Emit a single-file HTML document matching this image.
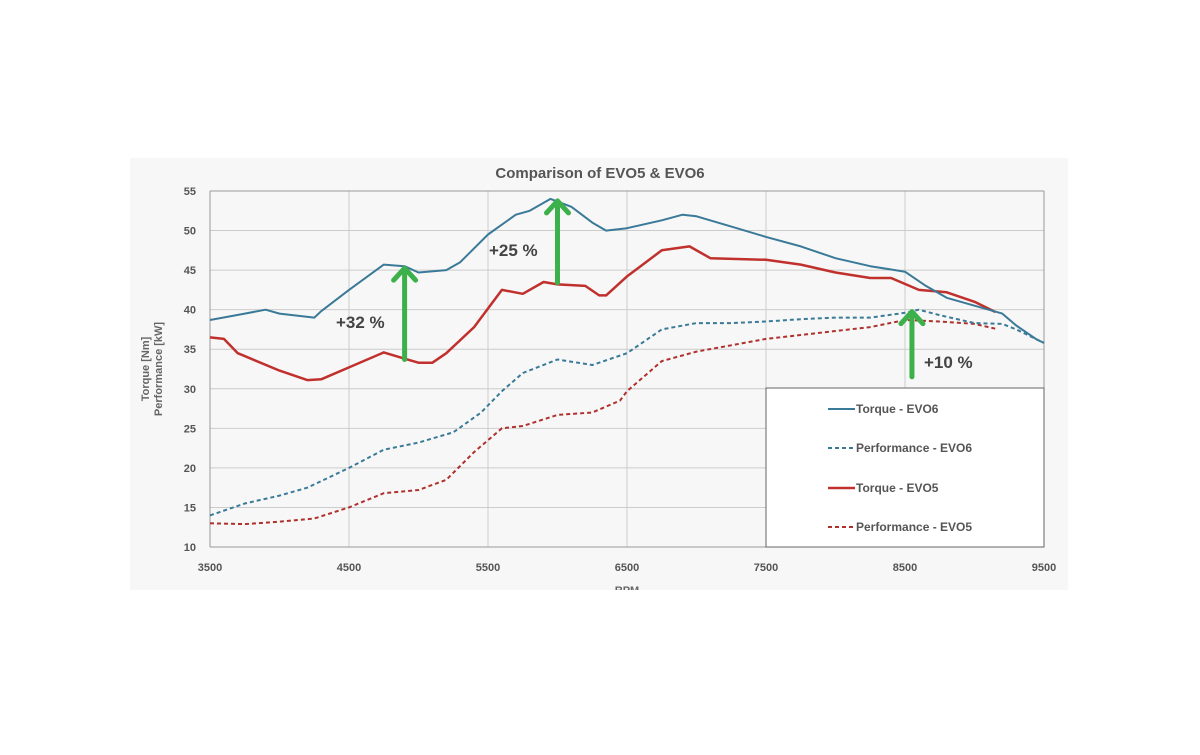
<!DOCTYPE html>
<html><head><meta charset="utf-8"><style>
body{margin:0;background:#fff;width:1200px;height:750px;overflow:hidden;font-family:"Liberation Sans",sans-serif}
</style></head><body>
<svg id="chart" width="1200" height="750" xmlns="http://www.w3.org/2000/svg" font-family="Liberation Sans, sans-serif">
<defs><clipPath id="pc"><rect x="130" y="155" width="940" height="435"/></clipPath></defs>
<rect x="130" y="158" width="938" height="432" fill="#f7f7f7"/>
<text x="600" y="178" text-anchor="middle" font-size="15" font-weight="bold" fill="#555">Comparison of EVO5 &amp; EVO6</text>
<g id="grid"></g><g id="ticks"></g>
<text transform="translate(149,369) rotate(-90)" text-anchor="middle" font-size="11" font-weight="bold" fill="#666">Torque [Nm]</text>
<text transform="translate(162,369) rotate(-90)" text-anchor="middle" font-size="11" font-weight="bold" fill="#666">Performance [kW]</text>
<g clip-path="url(#pc)"><text x="627" y="594" text-anchor="middle" font-size="11" font-weight="bold" fill="#666">RPM</text></g>
<g id="series"></g>
<g>
<rect x="766" y="388" width="278" height="159" fill="#fff" stroke="#666" stroke-width="1"/>
<line x1="828" y1="409" x2="855" y2="409" stroke="#3a7a98" stroke-width="2"/><text x="856" y="413" font-size="12" font-weight="bold" fill="#555">Torque - EVO6</text>
<line x1="828" y1="448" x2="855" y2="448" stroke="#3a7a98" stroke-width="2" stroke-dasharray="4,3"/><text x="856" y="452" font-size="12" font-weight="bold" fill="#555">Performance - EVO6</text>
<line x1="828" y1="488" x2="855" y2="488" stroke="#c0302c" stroke-width="2.5"/><text x="856" y="492" font-size="12" font-weight="bold" fill="#555">Torque - EVO5</text>
<line x1="828" y1="527" x2="855" y2="527" stroke="#b0302c" stroke-width="2" stroke-dasharray="4,3"/><text x="856" y="531" font-size="12" font-weight="bold" fill="#555">Performance - EVO5</text>
</g>
<g id="arrows"></g>
</svg>
<script>
const rpmTicks=[3500,4500,5500,6500,7500,8500,9500];
const yTicks=[10,15,20,25,30,35,40,45,50,55];
const torqueEvo6X=[3500,3750,3900,4000,4250,4300,4500,4750,4900,5000,5200,5300,5500,5700,5800,5950,6100,6250,6350,6500,6750,6900,7000,7250,7500,7750,8000,8250,8500,8650,8800,9000,9200,9300,9450,9500];
const torqueEvo6Y=[38.7,39.5,40,39.5,39,39.8,42.5,45.7,45.5,44.7,45,46,49.5,52,52.5,54,53,51,50,50.3,51.3,52,51.8,50.5,49.2,48,46.5,45.5,44.8,43,41.5,40.5,39.5,38,36.2,35.8];
const torqueEvo5X=[3500,3600,3700,4000,4200,4300,4500,4750,4900,5000,5100,5200,5400,5600,5750,5900,6000,6200,6300,6350,6500,6750,6950,7100,7500,7750,8000,8250,8400,8600,8800,9000,9150];
const torqueEvo5Y=[36.5,36.3,34.5,32.3,31.1,31.2,32.7,34.6,33.8,33.3,33.3,34.5,37.8,42.5,42,43.5,43.2,43,41.8,41.8,44.2,47.5,48,46.5,46.3,45.7,44.7,44,44,42.5,42.2,41,39.7];
const perfEvo6X=[3500,3750,4000,4200,4500,4750,5000,5250,5450,5600,5750,6000,6250,6500,6750,7000,7250,7500,7750,8000,8250,8500,8600,8750,9000,9200,9300,9500];
const perfEvo6Y=[14,15.5,16.5,17.5,20,22.3,23.2,24.5,27,29.7,32,33.7,33,34.5,37.5,38.3,38.3,38.5,38.8,39,39,39.6,40,39.3,38.3,38.2,37.5,35.8];
const perfEvo5X=[3500,3750,4000,4250,4500,4750,5000,5200,5400,5600,5750,6000,6250,6450,6500,6750,7000,7250,7500,7750,8000,8250,8500,8750,9000,9150];
const perfEvo5Y=[13,12.9,13.2,13.6,15,16.8,17.2,18.5,22,25,25.3,26.7,27,28.5,29.7,33.5,34.7,35.5,36.3,36.8,37.3,37.8,38.7,38.5,38.2,37.6];
const arrowRpm=[4900,6000,8550];
const arrowFrom=[33.7,43.4,31.5];
const arrowTo=[45.5,54,40];
const arrowLabels=["+32 %","+25 %","+10 %"];
const NS="http://www.w3.org/2000/svg";
const xs=r=>210+(r-3500)*834/6000;
const ys=v=>547-(v-10)*356/45;
function mk(tag,attrs,parent){const e=document.createElementNS(NS,tag);for(const k in attrs)e.setAttribute(k,attrs[k]);document.getElementById(parent).appendChild(e);return e;}
rpmTicks.forEach(r=>{
 const l=mk('line',{x1:xs(r),x2:xs(r),y1:ys(55),y2:ys(10),stroke:'#ccc','stroke-width':1},'grid');
 
 
 const t=mk('text',{x:xs(r),y:571,'text-anchor':'middle','font-size':11,'font-weight':'bold',fill:'#555'},'ticks');t.textContent=r;
 
 
});
yTicks.forEach(v=>{
 const l=mk('line',{x1:xs(3500),x2:xs(9500),y1:ys(v),y2:ys(v),stroke:v===55||v===10?'#999':'#ccc','stroke-width':1},'grid');
 
 
 const t=mk('text',{x:196,y:ys(v)+4,'text-anchor':'end','font-size':11,'font-weight':'bold',fill:'#555'},'ticks');t.textContent=v;
 
 
});
mk('line',{x1:xs(9500),x2:xs(9500),y1:ys(55),y2:ys(10),stroke:'#999'},'grid');
mk('line',{x1:xs(3500),x2:xs(3500),y1:ys(55),y2:ys(10),stroke:'#999'},'grid');
function line(X,Y,color,w,dash,name){
 const p=mk('path',{d:X.map((x,i)=>(i?'L':'M')+xs(x).toFixed(1)+','+ys(Y[i]).toFixed(1)).join(''),fill:'none',stroke:color,'stroke-width':w,'stroke-dasharray':dash||'none','stroke-linejoin':'round'},'series');
 
 
}
line(perfEvo5X,perfEvo5Y,'#b0302c',2,'4,3','performance-evo5-line');
line(perfEvo6X,perfEvo6Y,'#3a7a98',2,'4,3','performance-evo6-line');
line(torqueEvo5X,torqueEvo5Y,'#c0302c',2.5,null,'torque-evo5-line');
line(torqueEvo6X,torqueEvo6Y,'#3a7a98',2,null,'torque-evo6-line');
const labelPos=[[336,328],[489,256],[924,368]];
arrowRpm.forEach((r,i)=>{
 const x=xs(r),y1=ys(arrowFrom[i]),y2=ys(arrowTo[i]);
 const a=mk('path',{d:`M${x},${y1}L${x},${y2+3}M${x-11},${y2+14}L${x},${y2+2}L${x+11},${y2+14}`,fill:'none',stroke:'#3cb04a','stroke-width':5,'stroke-linecap':'round','stroke-linejoin':'round'},'arrows');
 
 
 const t=mk('text',{x:labelPos[i][0],y:labelPos[i][1],'font-size':17,'font-weight':'bold',fill:'#444'},'arrows');t.textContent=arrowLabels[i];
 
 
});
</script>
</body></html>
